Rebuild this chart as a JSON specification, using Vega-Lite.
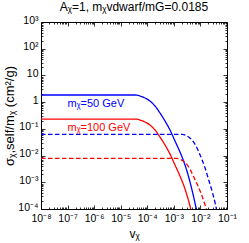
{
  "$schema": "https://vega.github.io/schema/vega-lite/v6.json",
  "width": 186,
  "height": 187,
  "autosize": "none",
  "padding": {"left": 41, "top": 22, "right": 22, "bottom": 34},
  "config": {
    "view": {"stroke": "black", "strokeWidth": 1},
    "font": "Liberation Sans",
    "axis": {"grid": false, "domain": false, "tickColor": "black", "tickWidth": 0.8, "labelColor": "black", "titleColor": "black", "labelFont": "Liberation Sans", "titleFont": "Liberation Sans", "labelFlush": false, "labelOverlap": false, "labelBound": false}
  },
  "title": {"text": "Aᵪ=1, mᵪvdwarf/mG=0.0185", "fontSize": 12, "fontWeight": "normal", "font": "Liberation Sans", "color": "black", "offset": 1, "frame": "group"},
  "data": {"values": [
    {"v": 1e-8, "s": 1.85, "m": "50", "t": "solid"},
    {"v": 3.45e-5, "s": 1.85, "m": "50", "t": "solid"},
    {"v": 5.32e-5, "s": 1.698, "m": "50", "t": "solid"},
    {"v": 8.2e-5, "s": 1.429, "m": "50", "t": "solid"},
    {"v": 1.265e-4, "s": 1.102, "m": "50", "t": "solid"},
    {"v": 1.954e-4, "s": 0.716, "m": "50", "t": "solid"},
    {"v": 3.013e-4, "s": 0.392, "m": "50", "t": "solid"},
    {"v": 4.645e-4, "s": 0.197, "m": "50", "t": "solid"},
    {"v": 7.16e-4, "s": 0.0906, "m": "50", "t": "solid"},
    {"v": 1.104e-3, "s": 0.0351, "m": "50", "t": "solid"},
    {"v": 1.702e-3, "s": 0.01358, "m": "50", "t": "solid"},
    {"v": 2.63e-3, "s": 0.00443, "m": "50", "t": "solid"},
    {"v": 4.055e-3, "s": 0.001023, "m": "50", "t": "solid"},
    {"v": 6.25e-3, "s": 1.675e-4, "m": "50", "t": "solid"},
    {"v": 9.64e-3, "s": 1.94e-5, "m": "50", "t": "solid"},
    {"v": 1e-8, "s": 0.233, "m": "100", "t": "solid"},
    {"v": 3.45e-5, "s": 0.233, "m": "100", "t": "solid"},
    {"v": 5.32e-5, "s": 0.2143, "m": "100", "t": "solid"},
    {"v": 8.2e-5, "s": 0.1803, "m": "100", "t": "solid"},
    {"v": 1.265e-4, "s": 0.139, "m": "100", "t": "solid"},
    {"v": 1.954e-4, "s": 0.0904, "m": "100", "t": "solid"},
    {"v": 3.013e-4, "s": 0.0494, "m": "100", "t": "solid"},
    {"v": 4.645e-4, "s": 0.0248, "m": "100", "t": "solid"},
    {"v": 7.16e-4, "s": 0.01143, "m": "100", "t": "solid"},
    {"v": 1.104e-3, "s": 0.00443, "m": "100", "t": "solid"},
    {"v": 1.702e-3, "s": 0.001714, "m": "100", "t": "solid"},
    {"v": 2.63e-3, "s": 5.58e-4, "m": "100", "t": "solid"},
    {"v": 4.055e-3, "s": 1.29e-4, "m": "100", "t": "solid"},
    {"v": 6.25e-3, "s": 2.11e-5, "m": "100", "t": "solid"},
    {"v": 1e-8, "s": 0.0625, "m": "50", "t": "dashed"},
    {"v": 2.099e-3, "s": 0.0625, "m": "50", "t": "dashed"},
    {"v": 2.793e-3, "s": 0.0574, "m": "50", "t": "dashed"},
    {"v": 3.715e-3, "s": 0.0483, "m": "50", "t": "dashed"},
    {"v": 4.943e-3, "s": 0.0372, "m": "50", "t": "dashed"},
    {"v": 6.59e-3, "s": 0.0242, "m": "50", "t": "dashed"},
    {"v": 8.77e-3, "s": 0.01324, "m": "50", "t": "dashed"},
    {"v": 0.01167, "s": 0.00665, "m": "50", "t": "dashed"},
    {"v": 0.01552, "s": 0.00306, "m": "50", "t": "dashed"},
    {"v": 0.02065, "s": 0.00119, "m": "50", "t": "dashed"},
    {"v": 0.02754, "s": 4.59e-4, "m": "50", "t": "dashed"},
    {"v": 0.03664, "s": 1.5e-4, "m": "50", "t": "dashed"},
    {"v": 0.04875, "s": 3.46e-5, "m": "50", "t": "dashed"},
    {"v": 1e-8, "s": 0.00789, "m": "100", "t": "dashed"},
    {"v": 1.303e-3, "s": 0.00789, "m": "100", "t": "dashed"},
    {"v": 1.734e-3, "s": 0.00724, "m": "100", "t": "dashed"},
    {"v": 2.307e-3, "s": 0.0061, "m": "100", "t": "dashed"},
    {"v": 3.069e-3, "s": 0.0047, "m": "100", "t": "dashed"},
    {"v": 4.093e-3, "s": 0.00305, "m": "100", "t": "dashed"},
    {"v": 5.445e-3, "s": 0.00167, "m": "100", "t": "dashed"},
    {"v": 7.568e-3, "s": 8.39e-4, "m": "100", "t": "dashed"},
    {"v": 0.01052, "s": 3.86e-4, "m": "100", "t": "dashed"},
    {"v": 0.01462, "s": 1.5e-4, "m": "100", "t": "dashed"},
    {"v": 0.02032, "s": 5.79e-5, "m": "100", "t": "dashed"}
  ]},
  "layer": [
    {
      "mark": {"type": "line", "clip": true, "interpolate": "monotone", "strokeWidth": 1.3},
      "encoding": {
        "x": {"field": "v", "type": "quantitative", "scale": {"type": "log", "domain": [1e-8, 0.1], "nice": false},
          "axis": {"orient": "bottom", "values": [1e-8, 1e-7, 1e-6, 1e-5, 1e-4, 1e-3, 1e-2, 1e-1], "tickSize": -4, "labelPadding": 8, "labelFontSize": 10.5,
            "labelExpr": "'10' + ['⁻⁸','⁻⁷','⁻⁶','⁻⁵','⁻⁴','⁻³','⁻²','⁻¹'][round(log(datum.value)/LN10)+8]",
            "title": "vᵪ", "titleFontSize": 12, "titleFontWeight": "normal", "titlePadding": 5}},
        "y": {"field": "s", "type": "quantitative", "scale": {"type": "log", "domain": [1e-4, 1000], "nice": false},
          "axis": {"orient": "left", "values": [1e-4, 1e-3, 1e-2, 1e-1, 1, 10, 100, 1000], "tickSize": -4, "labelPadding": 7, "labelFontSize": 10.5, "labelOffset": -2,
            "labelExpr": "['10⁻⁴','10⁻³','10⁻²','10⁻¹','1','10','10²','10³'][round(log(datum.value)/LN10)+4]",
            "title": "σᵪ,self/mᵪ (cm²/g)", "titleFontSize": 13, "titleFontWeight": "normal", "titlePadding": 1}},
        "color": {"field": "m", "type": "nominal", "scale": {"domain": ["50", "100"], "range": ["#0000ff", "#ff0000"]}, "legend": null},
        "strokeDash": {"field": "t", "type": "nominal", "scale": {"domain": ["solid", "dashed"], "range": [[1, 0], [4.5, 2.5]]}, "legend": null},
        "detail": {"field": "t"}
      }
    },
    {
      "data": {"values": [
        {"v": 1e-7, "s": 0.85, "m": "50", "label": "mᵪ=50 GeV"},
        {"v": 1e-7, "s": 0.11, "m": "100", "label": "mᵪ=100 GeV"}
      ]},
      "mark": {"type": "text", "align": "left", "baseline": "middle", "fontSize": 11, "font": "Liberation Sans"},
      "encoding": {
        "x": {"field": "v", "type": "quantitative", "axis": null},
        "y": {"field": "s", "type": "quantitative", "axis": null},
        "text": {"field": "label"},
        "color": {"field": "m", "type": "nominal", "legend": null}
      }
    },
    {
      "mark": {"type": "point", "opacity": 0, "clip": true},
      "encoding": {
        "x": {"field": "v", "type": "quantitative", "axis": {"orient": "bottom", "tickSize": -2, "labels": false, "title": null,
          "values": [2e-8,3e-8,4e-8,5e-8,6e-8,7e-8,8e-8,9e-8,2e-7,3e-7,4e-7,5e-7,6e-7,7e-7,8e-7,9e-7,2e-6,3e-6,4e-6,5e-6,6e-6,7e-6,8e-6,9e-6,2e-5,3e-5,4e-5,5e-5,6e-5,7e-5,8e-5,9e-5,2e-4,3e-4,4e-4,5e-4,6e-4,7e-4,8e-4,9e-4,2e-3,3e-3,4e-3,5e-3,6e-3,7e-3,8e-3,9e-3,2e-2,3e-2,4e-2,5e-2,6e-2,7e-2,8e-2,9e-2]}},
        "y": {"field": "s", "type": "quantitative", "axis": {"orient": "left", "tickSize": -2, "labels": false, "title": null,
          "values": [2e-4,3e-4,4e-4,5e-4,6e-4,7e-4,8e-4,9e-4,2e-3,3e-3,4e-3,5e-3,6e-3,7e-3,8e-3,9e-3,2e-2,3e-2,4e-2,5e-2,6e-2,7e-2,8e-2,9e-2,0.2,0.3,0.4,0.5,0.6,0.7,0.8,0.9,2,3,4,5,6,7,8,9,20,30,40,50,60,70,80,90,200,300,400,500,600,700,800,900]}}
      }
    },
    {
      "mark": {"type": "point", "opacity": 0, "clip": true},
      "encoding": {
        "x": {"field": "v", "type": "quantitative", "axis": {"orient": "top", "tickSize": -4, "labels": false, "title": null, "values": [1e-8, 1e-7, 1e-6, 1e-5, 1e-4, 1e-3, 1e-2, 1e-1]}},
        "y": {"field": "s", "type": "quantitative", "axis": {"orient": "right", "tickSize": -4, "labels": false, "title": null, "values": [1e-4, 1e-3, 1e-2, 1e-1, 1, 10, 100, 1000]}}
      }
    },
    {
      "mark": {"type": "point", "opacity": 0, "clip": true},
      "encoding": {
        "x": {"field": "v", "type": "quantitative", "axis": {"orient": "top", "tickSize": -2, "labels": false, "title": null,
          "values": [2e-8,3e-8,4e-8,5e-8,6e-8,7e-8,8e-8,9e-8,2e-7,3e-7,4e-7,5e-7,6e-7,7e-7,8e-7,9e-7,2e-6,3e-6,4e-6,5e-6,6e-6,7e-6,8e-6,9e-6,2e-5,3e-5,4e-5,5e-5,6e-5,7e-5,8e-5,9e-5,2e-4,3e-4,4e-4,5e-4,6e-4,7e-4,8e-4,9e-4,2e-3,3e-3,4e-3,5e-3,6e-3,7e-3,8e-3,9e-3,2e-2,3e-2,4e-2,5e-2,6e-2,7e-2,8e-2,9e-2]}},
        "y": {"field": "s", "type": "quantitative", "axis": {"orient": "right", "tickSize": -2, "labels": false, "title": null,
          "values": [2e-4,3e-4,4e-4,5e-4,6e-4,7e-4,8e-4,9e-4,2e-3,3e-3,4e-3,5e-3,6e-3,7e-3,8e-3,9e-3,2e-2,3e-2,4e-2,5e-2,6e-2,7e-2,8e-2,9e-2,0.2,0.3,0.4,0.5,0.6,0.7,0.8,0.9,2,3,4,5,6,7,8,9,20,30,40,50,60,70,80,90,200,300,400,500,600,700,800,900]}}
      }
    }
  ],
  "resolve": {"axis": {"x": "independent", "y": "independent"}}
}
